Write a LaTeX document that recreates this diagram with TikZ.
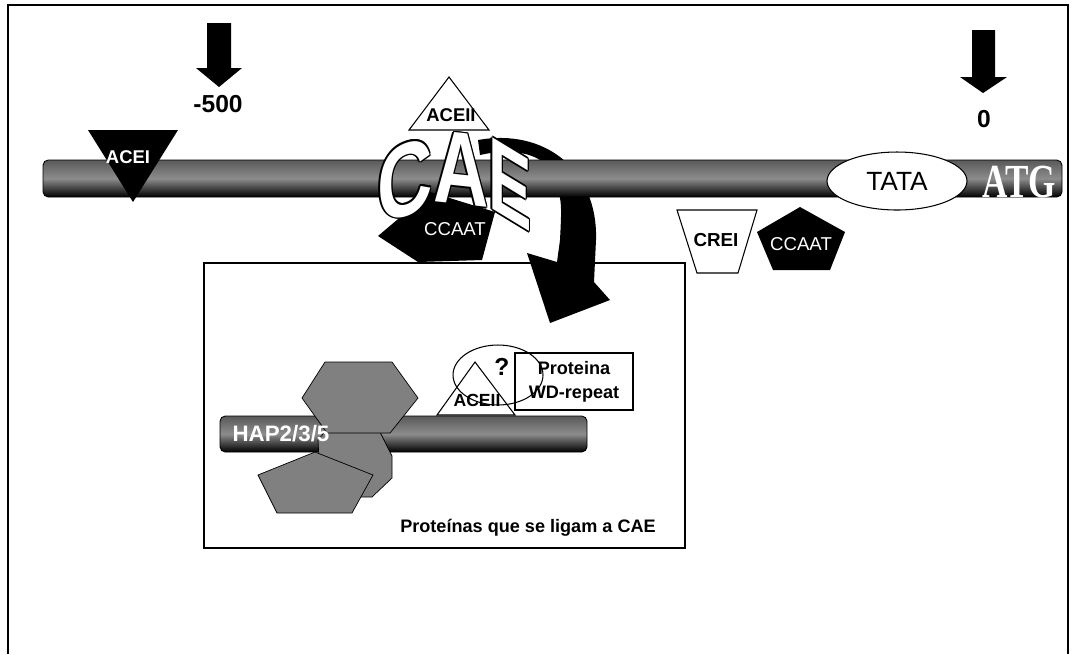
\documentclass[tikz,border=0pt]{standalone}
\usepackage{fontspec}
\setmainfont{Liberation Sans}
\newfontfamily\atgfont{Liberation Serif}
\usetikzlibrary{shapes.geometric}

\tikzset{
  dnabar/.style={draw=black, line width=0.5pt, rounded corners=3pt,
    top color=black!65, bottom color=black, middle color=black!45},
  whiteshape/.style={draw=black, fill=white, line width=0.6pt},
  grayshape/.style={draw=black, fill=black!50, line width=0.4pt},
  lbl/.style={font=\bfseries\fontsize{#1}{#1}\selectfont, inner sep=0pt},
  lbl/.default=10.5,
  plain/.style={font=\fontsize{#1}{#1}\selectfont, inner sep=0pt},
  caeletter/.style={font=\bfseries\fontsize{59}{59}\selectfont, inner sep=0pt,
    transform shape, xscale=0.74}
}

\begin{document}
\begin{tikzpicture}[x=0.02cm, y=-0.02cm]
\useasboundingbox (0,0) rectangle (1074,654);
% frame, open at the bottom
\draw[line width=1.2pt] (8,654) -- (8,5) -- (1068,5) -- (1068,654);

% position markers
\fill (207,23) -- (231,23) -- (231,68) -- (242,68) -- (219,87) -- (196,68) -- (207,68) -- cycle;
\node[lbl=14] (m500) at (218,104) {-500};
\fill (972,30) -- (995,30) -- (995,77) -- (1007,77) -- (983,93) -- (960,77) -- (972,77) -- cycle;
\node[lbl=14] (zero) at (984,119) {0};

% box of binding proteins
\draw[line width=0.8pt] (204,263) rectangle (685,548);

% curved arrow, goes behind the promoter
\fill (478,140) .. controls (545,128) and (598,170) .. (596,240) -- (594,282)
  -- (610,300) -- (550,323) -- (527,253) -- (557,262) -- (560,240)
  .. controls (562,200) .. (552,172) .. controls (540,152) and (510,148) .. (480,155) -- cycle;

% promoter
\draw[dnabar] (43,160) rectangle (1062,197);

\fill (88,130) -- (178,130) -- (133,202) -- cycle;
\node[lbl, text=white] (acei) at (128,157) {ACEI};

\draw[whiteshape] (409,130) -- (489,130) -- (449,77) -- cycle;
\node[lbl] (aceii) at (451,115) {ACEII};

\fill (378,236) -- (430,192) -- (495,212) -- (482,260) -- (418,262) -- cycle;
\node[plain=10.6, text=white] (ccaatl) at (455,229) {CCAAT};

% CAE word, white with black edge
\foreach \dx/\dy in {1.6/0, -1.6/0, 0/1.6, 0/-1.6, 1.1/1.1, -1.1/1.1, 1.1/-1.1, -1.1/-1.1} {
  \node[caeletter, yslant=0.25] at (405+\dx,180+\dy) {C};
  \node[caeletter, yslant=-0.08] at (461+\dx,169+\dy) {A};
  \node[caeletter, yslant=-0.45, xscale=0.85] at (510+\dx,184+\dy) {E};
}
\node[caeletter, yslant=0.25, text=white] (caec) at (405,180) {C};
\node[caeletter, yslant=-0.08, text=white] (caea) at (461,169) {A};
\node[caeletter, yslant=-0.45, xscale=0.85, text=white] (caee) at (510,184) {E};

\draw[whiteshape] (677,210) -- (757,210) -- (738,273) -- (697,273) -- cycle;
\node[lbl=10.7] (crei) at (716,240) {CREI};

\fill (800,207) -- (845,232) -- (830,270) -- (773,270) -- (757,232) -- cycle;
\node[plain=10.6, text=white] (ccaatr) at (801,244) {CCAAT};

\node[ellipse, whiteshape, minimum width=2.8cm, minimum height=1.16cm,
  font=\fontsize{15}{15}\selectfont] (tata) at (897,181) {TATA};

\node[text=white, font=\atgfont\bfseries\fontsize{27}{27}\selectfont, inner sep=0pt,
  transform shape, xscale=0.74] (atg) at (1019,182) {ATG};

% HAP complex
\draw[dnabar] (220,416) rectangle (587,452);
\draw[grayshape] (335,420) -- (380,432) -- (392,456) -- (392,478) -- (372,497)
  -- (340,497) -- (320,478) -- (318,440) -- cycle;
\draw[grayshape] (302,398) -- (325,362) -- (392,362) -- (418,398) -- (390,433) -- (327,433) -- cycle;
\draw[grayshape] (315,452) -- (373,475) -- (352,513) -- (277,513) -- (258,475) -- cycle;
\node[lbl=12.7, text=white] (hap) at (281,434) {HAP2/3/5};

\draw[whiteshape] (437,415) -- (515,415) -- (475,362) -- cycle;
\node[lbl=10] (aceiib) at (477,400) {ACEII};
\node[draw, line width=0.6pt, minimum width=2.36cm, minimum height=1.14cm,
  align=center, font=\bfseries\fontsize{10.3}{13.6}\selectfont] (wd) at (574,381.5) {Proteina\\WD-repeat};
\node[ellipse, draw, line width=0.6pt, minimum width=1.8cm, minimum height=1.2cm] (ring) at (498,375) {};
\node[lbl=14] (qm) at (502,367) {?};

\node[lbl=10.3] (caption) at (528,528) {Proteínas que se ligam a CAE};
\end{tikzpicture}
\end{document}
